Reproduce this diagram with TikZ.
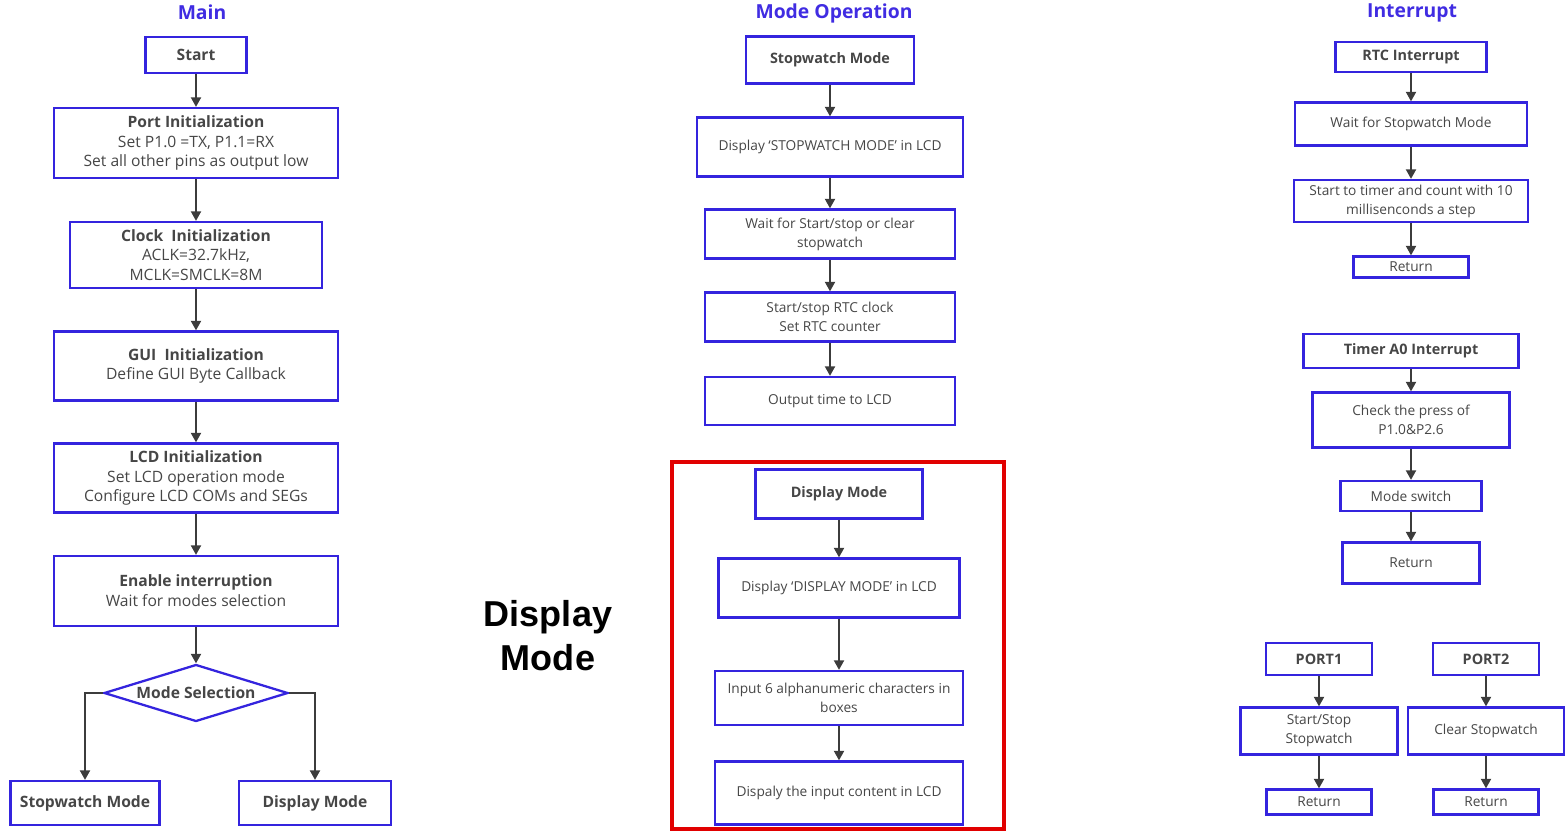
\documentclass[tikz,border=0pt]{standalone}
\usepackage{fontspec}
\setmainfont{Open Sans}
\newfontfamily\arialfont{Liberation Sans}
\usetikzlibrary{arrows.meta,shapes.geometric}

\definecolor{boxblue}{RGB}{52,36,222}
\definecolor{titleblue}{RGB}{64,44,226}
\definecolor{txtgray}{RGB}{70,70,70}
\definecolor{arrgray}{RGB}{60,60,60}
\definecolor{framered}{RGB}{225,0,0}

\begin{document}
\begin{tikzpicture}[x=0.02cm,y=-0.02cm]
\tikzstyle{box}=[draw=boxblue, line width=1.3pt, rectangle, inner sep=1pt, align=center, text=txtgray]
\tikzstyle{big}=[box, font=\fontsize{8.9}{11.3}\selectfont]
\tikzstyle{small}=[box, font=\fontsize{7.8}{10.8}\selectfont]
\tikzstyle{hdr}=[box, font=\bfseries\fontsize{8.2}{10}\selectfont]
\tikzstyle{head}=[font=\bfseries\fontsize{11}{12}\selectfont, text=titleblue]
\tikzstyle{arr}=[draw=arrgray, line width=1.1pt, -{Triangle[length=1.9mm,width=2mm]}]

\useasboundingbox (0,0) rectangle (1565,831);

% column titles
\node[head] (tmain) at (202,12) {Main};
\node[head] (tmode) at (834,13) {Mode Operation};
\node[head] (tint) at (1412,13) {Interrupt};

% main flow
\node[big, minimum width=2.02cm, minimum height=0.72cm] (start) at (196,55) {\textbf{Start}};
\node[big, minimum width=5.68cm, minimum height=1.40cm] (port) at (196,143)
  {\textbf{Port Initialization}\\Set P1.0 =TX, P1.1=RX\\Set all other pins as output low};
\node[big, minimum width=5.04cm, minimum height=1.32cm] (clock) at (196,255)
  {\textbf{Clock~ Initialization}\\ACLK=32.7kHz,\\MCLK=SMCLK=8M};
\node[big, minimum width=5.68cm, minimum height=1.38cm] (gui) at (196,366)
  {\textbf{GUI~ Initialization}\\Define GUI Byte Callback};
\node[big, minimum width=5.68cm, minimum height=1.38cm] (lcd) at (196,478)
  {\textbf{LCD Initialization}\\Set LCD operation mode\\Configure LCD COMs and SEGs};
\node[big, minimum width=5.68cm, minimum height=1.40cm] (irq) at (196,591)
  {\textbf{Enable interruption}\\Wait for modes selection};
\node[big, diamond, aspect=3.2, inner sep=0pt, minimum width=3.68cm, minimum height=1.14cm] (sel) at (196,693)
  {\textbf{Mode Selection}};
\node[big, minimum width=2.98cm, minimum height=0.88cm] (swmode) at (85,803) {\textbf{Stopwatch Mode}};
\node[big, minimum width=3.04cm, minimum height=0.88cm] (dmode) at (315,803) {\textbf{Display Mode}};

\draw[arr] (start) -- (port);
\draw[arr] (port) -- (clock);
\draw[arr] (clock) -- (gui);
\draw[arr] (gui) -- (lcd);
\draw[arr] (lcd) -- (irq);
\draw[arr] (irq) -- (sel);
\draw[arr] (sel.west) -| (swmode);
\draw[arr] (sel.east) -| (dmode);

% stopwatch mode
\node[hdr, minimum width=3.36cm, minimum height=0.94cm] (sw) at (830,60) {Stopwatch Mode};
\node[small, minimum width=5.32cm, minimum height=1.18cm] (swshow) at (830,147) {Display `STOPWATCH MODE' in LCD};
\node[small, minimum width=5.00cm, minimum height=0.98cm] (swwait) at (830,234) {Wait for Start/stop or clear\\stopwatch};
\node[small, minimum width=5.00cm, minimum height=0.98cm] (swrtc) at (830,317) {Start/stop RTC clock\\Set RTC counter};
\node[small, minimum width=5.00cm, minimum height=0.96cm] (swout) at (830,401) {Output time to LCD};

\draw[arr] (sw) -- (swshow);
\draw[arr] (swshow) -- (swwait);
\draw[arr] (swwait) -- (swrtc);
\draw[arr] (swrtc) -- (swout);

% display mode (highlighted)
\draw[framered, line width=2.2pt] (672,462) rectangle (1004,829);
\node[font=\arialfont\bfseries\fontsize{20.5}{25}\selectfont, align=center] (dmlabel) at (548,636) {Display\\Mode};

\node[hdr, minimum width=3.34cm, minimum height=0.98cm] (dm) at (839,494) {Display Mode};
\node[small, minimum width=4.82cm, minimum height=1.18cm] (dmshow) at (839,588) {Display `DISPLAY MODE' in LCD};
\node[small, minimum width=4.96cm, minimum height=1.08cm] (dmin) at (839,698) {Input 6 alphanumeric characters in\\boxes};
\node[small, minimum width=4.96cm, minimum height=1.26cm] (dmout) at (839,793) {Dispaly the input content in LCD};

\draw[arr] (dm) -- (dmshow);
\draw[arr] (dmshow) -- (dmin);
\draw[arr] (dmin) -- (dmout);

% rtc interrupt
\node[hdr, minimum width=3.02cm, minimum height=0.60cm] (rtc) at (1411,57) {RTC Interrupt};
\node[small, minimum width=4.64cm, minimum height=0.86cm] (rtcwait) at (1411,124) {Wait for Stopwatch Mode};
\node[small, minimum width=4.68cm, minimum height=0.84cm] (rtccount) at (1411,201) {Start to timer and count with 10\\millisenconds a step};
\node[small, minimum width=2.30cm, minimum height=0.42cm] (rtcret) at (1411,267) {Return};

\draw[arr] (rtc) -- (rtcwait);
\draw[arr] (rtcwait) -- (rtccount);
\draw[arr] (rtccount) -- (rtcret);

% timer interrupt
\node[hdr, minimum width=4.30cm, minimum height=0.68cm] (ta) at (1411,351) {Timer A0 Interrupt};
\node[small, minimum width=3.94cm, minimum height=1.10cm] (tacheck) at (1411,420) {Check the press of\\P1.0\&P2.6};
\node[small, minimum width=2.82cm, minimum height=0.60cm] (taswitch) at (1411,496) {Mode switch};
\node[small, minimum width=2.74cm, minimum height=0.82cm] (taret) at (1411,563) {Return};

\draw[arr] (ta) -- (tacheck);
\draw[arr] (tacheck) -- (taswitch);
\draw[arr] (taswitch) -- (taret);

% port interrupts
\node[hdr, minimum width=2.12cm, minimum height=0.64cm] (pa) at (1319,659) {PORT1};
\node[small, minimum width=3.14cm, minimum height=0.94cm] (patog) at (1319,731) {Start/Stop\\Stopwatch};
\node[small, minimum width=2.10cm, minimum height=0.50cm] (paret) at (1319,802) {Return};
\node[hdr, minimum width=2.12cm, minimum height=0.64cm] (pb) at (1486,659) {PORT2};
\node[small, minimum width=3.12cm, minimum height=0.94cm] (pbclr) at (1486,731) {Clear Stopwatch};
\node[small, minimum width=2.10cm, minimum height=0.50cm] (pbret) at (1486,802) {Return};

\draw[arr] (pa) -- (patog);
\draw[arr] (patog) -- (paret);
\draw[arr] (pb) -- (pbclr);
\draw[arr] (pbclr) -- (pbret);

\end{tikzpicture}
\end{document}
